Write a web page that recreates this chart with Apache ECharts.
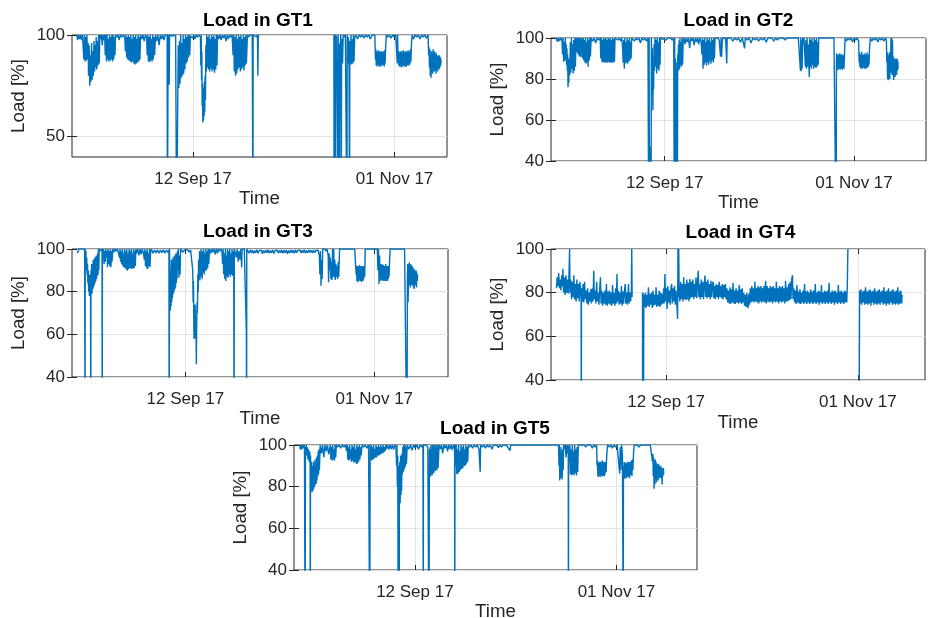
<!DOCTYPE html>
<html>
<head>
<meta charset="utf-8">
<script src="https://cdn.jsdelivr.net/npm/echarts@6/dist/echarts.min.js"></script>
<style>
  html, body { margin: 0; padding: 0; background: #ffffff; }
  #chart { width: 930px; height: 618px; }
</style>
</head>
<body>
<div id="chart"></div>
<script>
// Time is counted in days after 13 Aug 2017 (UTC).
const startDate = Date.UTC(2017, 7, 13);
const dateTicks = [30, 80];            // 12 Sep 17, 01 Nov 17
const loadTicksGT1 = [50, 100];
const loadTicks = [40, 60, 80, 100];
const panelTitles = ['Load in GT1', 'Load in GT2', 'Load in GT3', 'Load in GT4', 'Load in GT5'];
const dayExtent = [[0, 93], [0, 99], [0, 99.5], [0, 97.5], [0, 100]];

// Load [%] per gas turbine: [day, load]
const gt1Load = [
[1.2,100],[1.4,97.5],[1.6,100],[1.9,98],[2.1,100],[2.4,97.5],[2.6,100],[2.8,99.5],
[2.95,88],[3.1,100],[3.25,87],[3.4,99],[3.55,87.5],[3.7,100],[3.85,88],[4.0,96],
[4.1,80],[4.25,95],[4.4,75],[4.55,90],[4.7,77],[4.85,96],[5.0,78],[5.15,92],[5.3,80],[5.45,97],[5.6,82],[5.7,95],
[5.85,84],[6.0,99],[6.15,83],[6.3,97],[6.45,85],[6.6,100],[6.75,86],
[6.9,100],[7.1,98],[7.3,100],[7.5,95],[7.7,100],[7.9,97.5],[8.1,100],
[8.25,90],[8.4,100],[8.55,87],[8.7,100],[8.85,88],[9.0,98],[9.15,87],[9.3,100],[9.45,87.5],[9.6,99],[9.75,88],[9.9,100],[10.05,87],[10.2,100],[10.35,88],[10.5,99],[10.65,90],
[10.8,100],[11.1,99],[11.4,100],[11.7,97.5],[12.0,100],[12.4,99],[12.8,100],[13.1,98.5],
[13.25,92],[13.4,100],[13.55,89],[13.7,99],[13.85,88],[14.0,100],[14.15,87.5],[14.3,99],[14.45,87],[14.6,100],[14.75,86.5],[14.9,98],[15.05,87],[15.2,100],[15.35,86],[15.5,99],[15.65,85.5],[15.8,100],[15.95,86],[16.1,98],[16.25,86.5],[16.4,100],[16.55,87],[16.7,99],[16.85,88],
[17.0,100],[17.3,98],[17.6,100],[17.9,97],[18.2,100],[18.5,99],
[18.65,90],[18.8,100],[18.95,87],[19.1,99],[19.25,86.7],[19.4,100],[19.55,87.5],[19.7,98],[19.85,87],[20.0,100],[20.15,88],[20.3,99],[20.5,90],
[20.7,100],[21.0,97],[21.3,100],[21.6,95],[21.9,100],[22.2,98],[22.5,100],[22.8,97.5],[23.1,100],[23.4,99.5],
[23.6,100],[23.65,0],[23.8,0],[23.85,100],[24.1,75.5],[24.2,100],
[24.5,100],[24.9,99.5],[25.3,100],[25.7,99.8],
[25.95,0],[26.15,0],[26.25,73],
[26.35,95],[26.5,74],[26.65,97],[26.8,76],[26.95,100],[27.1,79],[27.25,96],[27.4,80],[27.55,100],[27.7,81],[27.85,98],[28.0,83],[28.15,100],[28.3,86],[28.45,99],[28.6,87],[28.75,100],[28.9,89],[29.05,100],[29.2,90],[29.35,99.5],
[29.6,100],[29.9,98.5],[30.2,100],[30.5,98],[30.8,100],[31.1,99],[31.4,100],[31.7,99.5],
[31.85,99],[31.95,85],[32.05,100],[32.12,78],[32.2,92],[32.28,65],[32.36,76],[32.44,57],[32.52,70],[32.6,58],[32.68,74],[32.76,60],[32.84,77],[32.92,62],[33.0,80],[33.1,68],[33.2,95],[33.3,82],
[33.4,100],[33.55,84],[33.7,99],[33.85,83],[34.0,100],[34.15,82],[34.3,98],[34.45,83.5],[34.6,100],[34.75,82],[34.9,99],[35.05,83],[35.2,100],[35.35,81.5],[35.5,98],[35.65,83],[35.8,100],[35.95,85],
[36.1,100],[36.4,98],[36.7,100],[37.0,97.5],[37.3,100],[37.6,98.5],[37.9,100],[38.2,97],[38.5,100],[38.8,98],[39.1,100],[39.4,99],[39.7,100],
[39.95,90],[40.1,100],[40.25,82],[40.4,99],[40.55,80],[40.7,100],[40.85,81],[41.0,98],[41.15,83],[41.3,100],[41.45,84],[41.6,99],[41.75,82],[41.9,100],[42.05,83],[42.2,98],[42.35,84],[42.5,100],[42.65,82.5],[42.8,99],[42.95,85],[43.1,100],[43.25,86],
[43.5,100],[43.8,99],[44.1,100],[44.4,99.5],[44.7,100],
[44.88,0],[44.92,100],
[45.3,100],[45.7,99],[46.0,100],[46.1,80],[46.2,100],[46.3,99],
[46.5,null],
[64.95,100],[65.0,0],[65.1,0],[65.2,100],[65.28,0],[65.35,100],[65.6,99],[65.95,0],[66.0,100],[66.15,88],[66.28,0],[66.35,96],[66.5,86],[66.65,100],[66.77,0],[66.85,87],[67.0,98],[67.1,86],[67.25,100],[67.5,99],[67.8,100],[68.0,99.5],
[68.18,0],[68.25,100],[68.4,86],[68.55,99],[68.7,85],[68.83,0],[68.9,97],[69.05,86],[69.2,100],[69.35,85.5],[69.5,98],[69.65,86],[69.8,100],[69.95,87],[70.1,99],
[70.4,100],[70.8,98],[71.2,100],[71.6,99],[72.0,100],[72.4,98.5],[72.8,100],[73.2,99],[73.6,100],[74.0,98],[74.4,100],[74.8,99.5],[75.1,100],
[75.25,88],[75.35,93],[75.45,85],[75.55,92],[75.65,84.5],[75.75,91],[75.85,86],[75.95,92.5],[76.05,85],[76.15,91.5],[76.25,84.4],[76.35,92],[76.45,85.5],[76.55,91],[76.65,84.5],[76.75,92],[76.85,85],[76.95,91.5],[77.05,86],[77.15,92],[77.25,85],[77.35,91],[77.45,84.5],[77.55,92.5],[77.65,86],[77.8,95],
[77.95,100],[78.3,99],[78.7,100],[79.1,98.5],[79.5,100],[79.9,99],[80.3,100],[80.55,100],
[80.65,86],[80.75,100],[80.85,87],[80.95,92],[81.05,85],[81.15,91],[81.25,84.5],[81.35,92],[81.45,85.5],[81.55,91.5],[81.65,84],[81.75,92],[81.85,85],[81.95,91],[82.05,84.5],[82.15,92.5],[82.25,85.5],[82.35,91],[82.45,84.5],[82.55,92],[82.65,85],[82.75,91.5],[82.85,84.3],[82.95,92],[83.05,85.5],[83.15,91],[83.25,85],[83.35,92.5],[83.45,86],[83.55,91],[83.65,85],[83.75,92],[83.85,86],[83.95,93],[84.05,87],[84.2,96],
[84.35,100],[84.7,98],[85.1,100],[85.5,99],[85.9,100],[86.3,98],[86.7,100],[87.1,99],[87.5,100],[87.9,98.5],[88.3,100],
[88.45,90],[88.55,94],[88.65,84],[88.75,93],[88.85,80],[88.95,90],[89.05,79],[89.15,92],[89.25,82],[89.35,91],[89.45,81],[89.55,93],[89.65,84],[89.75,90],[89.85,82],[89.95,92],[90.05,83],[90.15,90],[90.25,81],[90.35,91],[90.45,84],[90.55,89],[90.65,82],[90.75,90],[90.85,84],[90.95,89],[91.05,83],[91.15,90],[91.25,84],[91.35,89],[91.45,85],[91.55,88]
];

const gt2Load = [
[1.4,100],[1.7,98.2],[2.0,100],[2.3,98.5],[2.6,100],[2.9,99],
[3.05,92],[3.2,100],[3.35,88.4],[3.5,98],[3.65,89],[3.8,100],
[3.9,90],[4.0,97],[4.1,87],[4.2,95],[4.3,84],[4.4,92],[4.5,76],[4.6,88],[4.7,78],[4.8,90],
[4.95,82],[5.1,98],[5.25,83],[5.4,100],[5.55,85],[5.7,97],[5.85,82.7],[6.0,99],[6.15,84],[6.3,100],[6.45,86],
[6.6,100],[6.8,93],[7.0,100],[7.2,92],[7.35,100],
[7.5,91],[7.7,100],[7.9,90.8],[8.1,99],[8.25,100],
[8.35,90],[8.5,100],[8.65,89],[8.8,99],[8.95,88],[9.1,100],[9.25,87.5],[9.4,98],[9.55,88],[9.7,100],[9.8,86],[9.95,99],[10.1,89],[10.25,100],[10.4,91],
[10.6,100],[11.0,98.5],[11.4,100],[11.8,97.5],[12.2,100],[12.6,99],[13.0,100],
[13.15,90],[13.3,100],[13.45,88.4],[13.6,99],[13.75,88],[13.9,100],[14.05,88.2],[14.2,99.5],[14.35,88],[14.5,100],[14.65,87.9],[14.8,99],[14.95,88],[15.1,100],[15.25,88.2],[15.4,99.5],[15.55,88],[15.7,100],[15.85,87.9],[16.0,99],[16.15,88.1],[16.3,100],[16.45,88],[16.6,99.5],[16.75,88.4],[16.9,100],
[17.2,100],[17.6,99],[18.0,100],[18.4,98.5],
[18.7,100],[18.9,95],[19.05,88],[19.2,99],[19.35,85],[19.5,100],[19.65,87.6],[19.8,98],[19.95,88],[20.1,100],[20.25,87.5],[20.4,99],[20.55,88.5],[20.7,100],[20.85,89],[21.0,98],[21.15,90],[21.3,100],
[21.6,100],[22.0,98.5],[22.4,100],[22.8,99],[23.2,100],[23.6,97.5],[24.0,100],[24.4,99],[24.8,100],[25.2,98.5],[25.6,100],
[25.8,0],[25.9,100],[26.0,0],[26.1,45],[26.2,0],[26.3,47],[26.4,0],[26.5,100],
[26.6,85],[26.75,95],[26.9,64.7],[27.0,90],[27.1,75],[27.2,97],[27.3,84],
[27.45,100],[27.6,86],[27.75,99],[27.9,82.7],[28.05,100],[28.2,85],[28.35,98],[28.5,84],[28.65,100],[28.8,87],[28.9,100],
[29.2,100],[29.6,99.5],[30.0,100],[30.4,99],[30.8,100],[31.2,99.5],[31.6,100],[32.0,99],[32.4,100],
[32.55,0],[32.65,100],[32.75,0],[32.85,90],[32.95,0],[33.05,85],[33.15,0],[33.25,88],[33.35,0],[33.45,92],
[33.55,86],[33.65,97],[33.75,84.3],[33.85,99],[33.95,85],[34.05,100],[34.15,86.8],[34.3,98],[34.45,86],[34.6,100],[34.75,87],[34.9,99],
[35.1,100],[35.4,97],[35.7,100],[36.0,98],[36.3,100],[36.6,95],[36.9,100],[37.2,98.5],[37.5,100],[37.8,96.5],[38.1,100],[38.4,98],[38.7,100],[39.0,97],[39.3,100],[39.6,98.5],
[39.85,92],[40.0,100],[40.15,85],[40.3,99],[40.45,87],[40.6,100],[40.75,88],[40.9,98],[41.05,86.5],[41.2,100],[41.35,88],[41.5,99],[41.65,87],[41.8,100],[41.95,88.5],[42.1,98],[42.25,87.5],[42.4,100],[42.55,89],[42.7,99],[42.85,88],[43.0,100],[43.15,90],[43.3,100],
[43.6,99.5],[44.0,100],[44.4,99],
[44.75,91],[44.9,100],[45.05,90.8],[45.2,98],[45.4,100],
[45.7,99.5],[46.1,100],[46.4,87.6],[46.5,100],
[47.0,99.5],[47.5,100],[48.0,98.5],[48.5,100],[49.0,99],[49.5,100],[50.0,98],[50.5,100],[51.1,94.9],[51.3,100],[51.8,99],[52.3,100],[52.8,97.5],[53.3,100],[53.8,99],[54.3,100],[54.8,98.5],[55.3,100],[55.8,99],[56.3,100],[56.8,98],[57.3,100],[57.8,99.5],[58.3,100],[58.8,98.5],[59.3,100],[59.8,99],[60.3,100],[60.8,99.5],[61.3,100],[61.8,99],[62.3,100],[62.8,99.5],[63.3,100],[63.8,99.8],[64.3,100],[64.8,99.7],[65.3,100],[65.7,100],
[65.85,84],[65.95,100],[66.05,83.8],[66.15,99],[66.3,85],[66.45,100],[66.6,97],[66.8,100],[67.0,92],[67.15,86],[67.3,99],[67.45,85],[67.6,100],[67.75,86],[67.9,97],[68.05,88],[68.2,81],[68.3,100],[68.45,86],[68.6,99],[68.75,85],[68.9,100],[69.05,86.8],[69.2,98],[69.35,85],[69.5,100],[69.65,86],[69.8,99],[69.95,85.5],[70.1,100],[70.25,86],[70.4,98],[70.55,87],
[70.7,100],[71.2,99.8],[71.7,100],[72.2,99.8],[72.7,100],[73.2,99.8],[73.7,100],[74.2,99.8],[74.7,100],[75.2,99.8],
[75.28,0],[75.35,88],[75.45,92.5],[75.55,85],[75.65,91],[75.75,84.3],[75.85,92],[75.95,86],[76.05,91.5],[76.15,85],[76.25,92.5],[76.35,84.5],[76.45,91],[76.55,86],[76.65,92],[76.75,85],[76.85,91.5],[76.95,84.5],[77.05,92],[77.15,86],[77.25,91],[77.35,85],[77.5,93],
[77.65,100],[78.0,98.5],[78.4,100],[78.8,99],[79.2,100],[79.6,98],[80.0,100],[80.4,99],[80.8,100],[81.2,98.5],
[81.35,88],[81.45,93],[81.55,86],[81.65,92],[81.75,85.1],[81.85,91.5],[81.95,86],[82.05,93.3],[82.15,85],[82.25,91],[82.35,86],[82.45,92],[82.55,85.5],[82.65,91.5],[82.75,85],[82.85,92.5],[82.95,86],[83.05,91],[83.15,85],[83.25,92],[83.35,86],[83.45,93],[83.55,85.5],[83.65,91],[83.75,86],[83.85,92],[83.95,87],[84.1,95],
[84.3,100],[84.7,98.5],[85.1,100],[85.5,99],[85.9,100],[86.3,98],[86.7,100],[87.1,99],[87.5,100],[87.9,98.5],[88.3,100],[88.55,99],
[88.65,88],[88.75,93],[88.85,80],[88.95,92],[89.05,79.4],[89.15,90],[89.25,82],[89.35,93],[89.45,80],[89.55,91],[89.65,84],[89.75,100],[89.85,83],[89.95,100],[90.05,82],[90.15,99],[90.25,84],[90.35,91],[90.45,79.5],[90.55,90],[90.65,82],[90.75,89],[90.85,81],[90.95,90],[91.05,83],[91.15,89],[91.25,82],[91.35,90],[91.45,84],[91.55,89],[91.65,85]
];

const gt3Load = [
[1.4,98],[1.6,97.7],[1.8,100],[2.2,99.5],[2.6,100],[3.0,99.5],[3.35,100],
[3.45,0],[3.5,100],
[3.6,92],[3.7,99],[3.8,90],[3.9,96],[4.0,88],[4.1,93],[4.2,84],[4.3,90],[4.4,80],[4.5,86],[4.6,78],[4.7,88],[4.8,79],[4.9,85],
[4.98,0],[5.02,90],
[5.1,80],[5.2,93],[5.3,79],[5.4,92],[5.5,81],[5.6,95],[5.7,82],[5.8,91],[5.9,83],[6.0,96],[6.1,84],[6.2,92],[6.3,85],[6.4,97],[6.5,86],[6.6,93],[6.7,87.5],[6.8,98],[6.9,88],[7.0,100],[7.1,90],[7.2,100],
[7.4,100],[7.7,99],[7.95,100],
[8.0,0],[8.05,99],
[8.2,95],[8.35,100],[8.5,93],[8.65,99],[8.8,94],[8.95,100],[9.1,96],[9.25,99],[9.4,91.4],[9.55,100],[9.7,93],[9.85,99],[10.0,92],[10.15,100],[10.3,91.5],[10.45,99],[10.6,94],
[10.8,100],[11.1,98.5],[11.4,100],[11.7,99],[12.0,100],[12.3,98],
[12.55,96],[12.7,100],[12.85,94],[13.0,99],[13.15,93],[13.3,100],[13.45,92],[13.6,98],[13.75,91.5],[13.9,100],[14.05,91],[14.2,99],[14.35,90.5],[14.5,100],[14.65,89.8],[14.8,98],[14.95,90.5],[15.1,100],[15.25,91],[15.4,99],[15.55,91],[15.7,100],[15.85,90.6],[16.0,98],[16.15,91],[16.3,100],[16.45,91],[16.6,99],[16.75,92],[16.9,100],
[17.1,98],[17.4,100],[17.7,97],[18.0,100],[18.3,97.5],[18.6,100],[18.9,98],
[19.15,95],[19.3,100],[19.45,92],[19.6,99],[19.75,91],[19.9,100],[20.05,90.6],[20.2,98],[20.35,92],[20.5,100],[20.65,91.5],[20.8,99],
[21.0,100],[21.4,98],[21.8,99.5],[22.2,98.2],[22.6,99.6],[23.0,98],[23.4,99.5],[23.8,98.3],[24.2,99.6],[24.6,98],[25.0,99.5],[25.4,98.4],[25.65,99.5],
[25.72,0],[25.8,100],[25.9,85],[26.0,71],[26.1,90],[26.2,73],[26.3,95],[26.4,75],[26.5,92],[26.6,77],[26.7,96],[26.8,79],[26.9,93],[27.0,80],[27.1,97],[27.2,81],[27.3,94],[27.4,82],[27.5,98],[27.6,84],[27.7,96],[27.8,86],[27.9,99],
[28.0,90],[28.15,100],[28.3,86.7],[28.45,97],[28.6,88],[28.75,100],
[29.0,99.5],[29.4,98.5],[29.8,99.6],[30.2,98.8],[30.6,99.7],[31.0,98.5],[31.4,99.5],[31.8,99],
[31.95,90],[32.05,75],[32.15,85],[32.25,62],[32.3,57.8],[32.4,70],[32.5,60],[32.6,74],[32.7,58],[32.8,68],[32.9,46],[33.0,65],[33.1,75],[33.2,70],[33.3,88],[33.4,80],[33.5,95],
[33.65,86],[33.75,99],[33.85,85.2],[33.95,97],[34.05,87],[34.15,100],[34.25,88],[34.35,96],[34.45,86],[34.55,99],[34.7,89],[34.85,100],[35.0,88],[35.15,98],[35.3,89.8],[35.45,100],[35.6,90],[35.75,99],[35.9,91],[36.05,100],[36.2,93],
[36.4,100],[36.7,98],[37.0,100],[37.3,98.5],[37.6,100],[37.9,97.5],[38.2,100],[38.5,98],[38.8,100],[39.1,99],[39.4,100],[39.7,98.5],
[39.85,93],[40.0,100],[40.15,88],[40.3,98],[40.45,86],[40.6,100],[40.7,85],[40.85,97],[41.0,87],[41.15,100],[41.3,86.5],[41.45,99],[41.6,88],[41.75,100],[41.9,87],[42.05,98],[42.2,88],[42.35,100],[42.5,87.5],[42.65,99],[42.8,90],
[42.9,0],[42.95,100],
[43.2,99.5],[43.5,96],[43.7,100],[44.0,94],[44.2,99],[44.5,95],[44.7,100],[44.9,91.4],[45.0,100],
[45.3,99.5],[45.6,100],[45.9,99.5],
[46.15,60],[46.2,0],[46.25,100],
[46.5,99.2],[46.8,98],[47.1,99.5],[47.4,98.3],[47.7,99.4],[48.0,97.9],[48.3,99.3],[48.6,98.2],[48.9,99.6],[49.2,98],[49.5,99.2],[49.8,98.4],[50.1,99.5],[50.4,97.8],[50.7,99.3],[51.0,98.1],[51.3,99.4],[51.6,98.3],[51.9,99.6],[52.2,98],[52.5,99.3],[52.8,98.2],[53.1,99.5],[53.4,97.9],[53.7,99.2],[54.0,98.4],[54.3,99.5],[54.6,98.1],[54.9,99.3],[55.2,98.3],[55.5,99.6],[55.8,98],[56.1,99.4],[56.4,98.2],[56.7,99.5],[57.0,97.8],[57.3,99.3],[57.6,98.1],[57.9,99.5],[58.2,98.3],[58.5,99.4],[58.8,98],[59.1,99.6],[59.4,98.2],[59.7,99.3],[60.0,98.4],[60.3,99.5],[60.6,98.1],[60.9,99.4],[61.2,98.3],[61.5,99.6],[61.8,98],[62.1,99.3],[62.4,98.2],[62.7,99.5],[63.0,98.4],[63.3,99.4],[63.6,98.1],[63.9,99.5],[64.2,98.3],[64.5,99.3],[64.8,98.5],[65.1,99.4],[65.35,98.8],
[65.45,97],[65.6,88],[65.75,99],[65.9,82.8],[66.05,95],[66.2,86],[66.35,100],[66.6,99.5],[66.9,100],[67.2,99],[67.5,100],[67.8,97],[67.9,84.4],[68.05,98],[68.2,90],[68.35,96],[68.5,86],[68.65,94],[68.8,85.5],[68.95,100],[69.1,87],[69.25,100],[69.4,86.7],[69.55,95],[69.7,85.5],[69.85,93],[70.0,87],[70.15,92],[70.3,86],[70.45,94],[70.6,87],
[70.8,100],[71.2,99.3],[71.6,100],[72.0,99.2],[72.4,100],[72.8,99.4],[73.2,100],[73.6,99.2],[74.0,100],[74.4,99.3],[74.8,100],[75.1,99.5],
[75.2,88],[75.3,92],[75.4,85],[75.5,91],[75.6,84.4],[75.7,92],[75.8,86],[75.9,91],[76.0,85],[76.1,92.5],[76.2,86],[76.3,91],[76.4,85],[76.5,92],[76.6,84.5],[76.7,91.5],[76.8,86],[76.9,92],[77.0,85],[77.1,91],[77.2,86],[77.3,92],[77.45,87],
[77.6,100],[78.0,99.5],[78.4,100],[78.8,99.3],[79.2,100],[79.6,99.5],[80.0,100],[80.4,99.4],[80.8,100],
[80.95,90],[81.1,100],[81.25,83.6],[81.4,97],
[81.5,86],[81.6,93],[81.7,85],[81.8,92],[81.9,86],[82.0,93],[82.1,85.5],[82.2,91],[82.3,85],[82.4,92.5],[82.5,86],[82.6,91],[82.7,85],[82.8,92],[82.9,86],[83.0,93],[83.1,85],[83.2,91.5],[83.3,86],[83.4,92],[83.5,85],[83.6,92],[83.7,86],[83.8,91],[83.9,87],[84.05,95],
[84.2,100],[84.6,99.5],[85.0,100],[85.5,99.5],[86.0,100],[86.5,99.5],[87.0,100],[87.5,99.6],[88.0,100],[88.5,99.8],
[88.65,0],[88.75,85],[88.85,93],[88.95,75],[89.05,90],[89.15,83],[89.25,93.8],[89.35,84],[89.45,92],[89.55,82],[89.65,93],[89.75,85],[89.85,91],[89.95,83],[90.05,92],[90.15,84],[90.25,90],[90.35,82],[90.45,91],[90.55,81.3],[90.65,90],[90.75,84],[90.85,89],[90.95,83],[91.05,90],[91.15,82],[91.25,89],[91.35,85],[91.45,88]
];

const gt4Load = [
[1.4,82],[1.6,87],[1.8,83],[2.0,89],[2.2,82],[2.4,86],[2.6,81],[2.8,88],[3.0,83],[3.1,91],
[3.3,80],[3.5,87],[3.7,79],[3.9,88],[4.1,80],[4.3,86],[4.5,79.5],[4.7,89],
[4.85,100],[4.95,80],
[5.15,86],[5.35,77],[5.55,85],[5.75,78],[5.95,88],[6.15,77],[6.35,84],[6.55,76],[6.75,86],[6.95,77.5],[7.15,84],[7.35,76],[7.55,85],
[7.85,77],[7.9,0],[7.95,82],
[8.15,76],[8.35,84],[8.55,75.5],[8.75,85],[8.95,77],
[9.15,81],[9.35,75],[9.55,82],[9.75,74.5],[9.95,80],[10.15,76],[10.35,81.5],[10.55,75],[10.75,82],[10.95,76],[11.15,90],[11.3,77],[11.5,81],[11.7,75],[11.9,85],[12.1,76],[12.3,80],[12.5,74.5],[12.7,82],[12.9,87],[13.05,75],[13.25,81],
[13.45,74],[13.65,80],[13.85,75],[14.05,81],[14.25,74.5],[14.45,84],[14.65,74],[14.85,80.5],[15.05,75],[15.25,81],[15.45,74.5],[15.65,80],[15.85,74],[16.05,83.5],[16.25,75],[16.45,80],[16.65,74],[16.85,82],[17.05,75],[17.2,88.5],[17.35,76],[17.55,81],[17.75,74.5],[17.95,80],[18.15,75],[18.35,83],[18.55,74],[18.75,80.5],[18.95,75],[19.15,81],[19.35,84],[19.5,75],[19.7,80],[19.9,74.5],[20.1,81],[20.2,84],[20.35,75],[20.55,80],[20.75,76],[20.95,81],[21.05,100],[21.15,78],
[21.25,null],
[23.85,80],[23.9,0],[24.0,80],[24.1,0],[24.2,79],
[24.4,73.5],[24.6,80],[24.8,73],[25.0,79],[25.2,74],[25.4,82.5],[25.6,73.5],[25.8,79.5],[26.0,74.5],[26.2,80],[26.4,73],[26.6,81],[26.8,74],[27.0,79],[27.2,74.5],[27.4,82.5],[27.6,73.5],[27.8,79],[28.0,74],[28.2,81],[28.4,73.5],[28.6,80],[28.8,74.5],[29.0,79.5],[29.2,75],[29.35,82],
[29.5,75],[29.7,88.5],[29.85,76],[30.05,82],[30.25,72.5],[30.45,83],[30.65,75.5],[30.85,81],[31.05,74.5],[31.25,82],[31.45,84],[31.6,75],[31.8,82],[32.0,76],[32.2,83],[32.4,74.5],[32.6,81],[32.8,75],[33.0,68],[33.1,100],[33.2,78],[33.3,100],[33.4,80],
[33.6,76],[33.8,85],[34.0,77],[34.2,84],[34.4,76],[34.6,87],[34.8,77],[35.0,84],[35.2,76.5],[35.4,86],[35.6,77],[35.8,84.5],[36.0,76],[36.2,86.3],[36.4,77.5],
[36.6,85],[36.8,78],[37.0,86],[37.2,77],[37.4,84],[37.6,78],[37.8,87],[38.0,77.5],[38.2,85],[38.4,90],[38.55,78],[38.75,84],[38.95,77],[39.15,86],[39.35,78],[39.55,85],[39.75,77],[39.95,84],[40.15,87.8],[40.3,78],[40.5,85],[40.7,77.5],[40.9,86],[41.1,78],[41.3,84],[41.5,77],[41.7,85.5],[41.9,78],[42.1,84],[42.3,85],[42.45,77.5],
[42.65,83],[42.85,77],[43.05,84],[43.25,78],[43.45,83.5],[43.65,77],[43.85,85],[44.05,78],[44.25,83],[44.45,77.5],[44.65,84],[44.85,77],[45.05,83.5],[45.25,78],[45.45,84],[45.65,77],
[45.85,82],[46.05,75.5],[46.25,81],[46.45,75],[46.65,82.5],[46.85,74.8],[47.05,81.5],[47.25,75.5],[47.45,84.5],[47.65,75],[47.85,81],[48.05,74.8],[48.25,82],[48.45,75.5],[48.65,81],[48.85,75],[49.05,83.5],[49.25,75.5],[49.45,81.5],[49.65,74.8],[49.85,82],[50.05,75.5],
[50.25,80],[50.45,74],[50.65,79],[50.85,73.5],[51.05,80],[51.25,74],[51.4,73],[51.55,79.5],[51.75,74.5],
[51.95,82],[52.15,75.5],[52.35,83],[52.55,76],[52.75,82],[52.95,75.5],[53.15,85],[53.35,76],[53.55,82],[53.75,75.5],[53.95,83],[54.15,75],[54.35,82.5],[54.55,76],[54.75,83],[54.95,75.5],[55.15,82],[55.35,76],[55.55,83],[55.75,75.5],[55.95,85.5],[56.15,75],[56.35,83],[56.55,76],[56.75,82],[56.95,75.5],[57.15,83],[57.35,76],[57.55,82.5],[57.75,75],[57.95,83],[58.15,76],[58.35,82],[58.55,75.5],[58.75,85],[58.95,76],[59.15,82],[59.35,75],[59.55,83],[59.75,76],[59.95,82.5],[60.15,75.5],[60.35,83],[60.55,76],[60.75,82],[60.95,75],[61.15,85.5],[61.35,76],[61.55,82.5],[61.75,76],[61.95,84],[62.15,76.5],[62.35,85],[62.55,77],[62.75,86],[62.95,88],[63.1,77],
[63.3,82],[63.5,75.5],[63.7,81],[63.9,74.8],[64.1,83.5],[64.3,75.5],[64.5,80.5],[64.7,75],[64.9,81.5],[65.1,74.8],[65.3,80],[65.5,75.5],[65.7,81],[65.9,74.8],[66.1,84],[66.3,75.5],[66.5,80.5],[66.7,74.8],[66.9,81],[67.1,75.5],[67.3,80],[67.5,74.8],[67.7,81.5],[67.9,75.5],[68.1,80.5],[68.3,74.8],[68.5,81],[68.7,75.5],[68.9,84],[69.1,74.8],[69.3,80],[69.5,75.5],[69.7,81],[69.9,74.5],[70.1,80.5],[70.3,75.5],[70.5,83.5],[70.7,74.8],[70.9,80],[71.1,75.5],[71.3,81],[71.5,74.8],[71.7,80.5],[71.9,75.5],[72.1,81],[72.3,74.8],[72.5,84.5],[72.7,75.5],[72.9,80],[73.1,74.8],[73.3,81],[73.5,75.5],[73.7,80.5],[73.9,74.5],[74.1,81],[74.3,75.5],[74.5,80],[74.7,74.8],[74.9,83.5],[75.1,75.5],[75.3,80.5],[75.5,74.8],[75.7,81],[75.9,75.5],[76.1,80],[76.3,74.8],[76.5,81],[76.7,75.5],[76.9,80.5],[77.1,75.5],[77.25,84],[77.4,100],
[77.5,null],
[80.3,0],[80.45,81],
[80.6,75],[80.8,81.5],[81.0,74.5],[81.2,80.5],[81.4,75.5],[81.6,81],[81.8,74.5],[82.0,82.5],[82.2,75],[82.4,80.5],[82.6,74.5],[82.8,81],[83.0,75],[83.2,81.5],[83.4,74],[83.6,80.5],[83.8,75.5],[84.0,81],[84.2,74.5],[84.4,82],[84.6,75],[84.8,80.5],[85.0,74.5],[85.2,81],[85.4,75],[85.6,81.5],[85.8,74.5],[86.0,80.5],[86.2,75.5],[86.4,81],[86.6,74.5],[86.8,82.5],[87.0,75],[87.2,80.5],[87.4,74],[87.6,81],[87.8,75],[88.0,82],[88.2,74.5],[88.4,80.5],[88.6,75.5],[88.8,81],[89.0,74.5],[89.2,81.5],[89.4,75],[89.6,80.5],[89.8,74.5],[90.0,81],[90.2,75],[90.4,82.5],[90.6,74.5],[90.8,80.5],[91.0,75],[91.2,81],[91.4,75],[91.55,79]
];

const gt5Load = [
[1.4,100],[1.6,97.8],[1.8,100],[2.0,98],[2.2,100],[2.4,98.5],[2.6,100],
[2.75,0],[2.85,99],
[2.95,96],[3.05,100],[3.15,95],[3.3,99],[3.45,93],[3.6,98],[3.75,92],[3.9,97],[4.0,91],
[4.04,0],[4.1,95],
[4.2,85],[4.3,92],[4.4,79],[4.5,77.4],[4.6,90],[4.7,78],[4.8,92],[4.9,79],[5.0,90],[5.1,80],[5.2,93],[5.3,81],[5.4,91],[5.5,81.4],[5.6,94],[5.7,83],[5.8,95],[5.9,85],[6.0,97],[6.1,86],[6.2,98],[6.3,88],
[6.5,100],[6.8,96],[7.1,100],[7.4,94.2],[7.7,100],[8.0,97],[8.3,100],[8.6,95.5],
[8.85,96],[9.0,100],[9.15,93],[9.3,99],[9.45,92.6],[9.6,100],[9.75,93],[9.9,98],[10.05,92.6],[10.2,100],[10.35,94],[10.5,100],
[10.8,99],[11.2,100],[11.6,98.5],[12.0,100],[12.4,99],[12.8,100],
[13.05,97],[13.2,100],[13.35,93],[13.5,99],[13.65,92.6],[13.8,100],[13.95,93],[14.1,98],[14.25,92],[14.4,100],[14.55,92.5],[14.7,99],[14.85,91.5],[15.0,100],[15.15,92],[15.3,98],[15.45,91],[15.6,100],[15.75,91],[15.9,99],[16.05,92],[16.2,100],[16.35,93],[16.5,99],[16.65,95],
[16.9,100],[17.3,99],[17.7,100],[18.1,98.5],[18.5,100],[18.75,99.5],
[18.8,0],[18.9,100],
[19.0,93],[19.15,100],[19.3,92.6],[19.45,99],[19.6,93],[19.75,100],[19.9,93.5],[20.05,98],[20.2,94],[20.35,100],[20.5,94],[20.65,99],[20.8,95],[20.95,100],[21.1,95],[21.25,99],[21.4,95.5],[21.55,100],[21.7,96],[21.85,99],[22.0,96],[22.15,100],[22.3,96.6],[22.45,99],[22.6,97],[22.75,100],[22.9,98],
[23.2,100],[23.5,97.8],[23.8,100],[24.1,98],[24.4,100],[24.7,97.8],[25.0,100],[25.3,99],
[25.45,90],[25.55,100],[25.65,80],[25.75,95],[25.86,0],[25.9,68.6],[26.0,90],[26.1,0],[26.15,75],[26.25,92],[26.35,72],[26.45,95],[26.55,76],[26.65,93],[26.7,78.2],
[26.8,96],[26.9,86],[27.0,99],[27.1,87],[27.2,100],[27.3,88],[27.4,99],[27.5,89],[27.6,100],[27.7,90],[27.8,99],[27.9,91],
[28.1,100],[28.5,98],[28.9,100],[29.3,97.5],[29.7,100],[30.1,98.5],[30.5,100],[30.9,98],[31.3,100],[31.7,99],[32.0,100],
[32.07,0],[32.12,100],
[32.4,99.5],[32.8,100],[33.2,99],
[33.5,0],[33.6,98],
[33.7,84.6],[33.8,99],[33.9,85],[34.0,100],[34.1,86],[34.2,97],[34.3,85.5],[34.4,100],[34.5,87],[34.6,98],[34.7,86.5],[34.8,100],[34.9,88],[35.0,99],[35.1,87.5],[35.2,100],[35.3,88.6],[35.4,98],[35.5,88],[35.6,100],[35.75,89],
[36.0,100],[36.3,98],[36.6,100],[36.9,96],[37.2,100],[37.5,98.5],[37.8,100],[38.1,97],[38.4,100],[38.7,98],[39.0,100],[39.3,97.5],[39.6,100],[39.85,99],
[39.9,0],[39.95,100],
[40.1,90],[40.25,100],[40.4,86],[40.55,98],[40.7,86.2],[40.85,100],[41.0,87],[41.15,97],[41.3,88],[41.45,100],[41.6,88.5],[41.75,99],[41.9,89],[42.05,100],[42.2,90],[42.35,98],[42.5,90],[42.65,100],[42.8,91],[42.95,99],[43.1,92],[43.25,100],
[43.5,99],[43.9,100],[44.3,98.5],[44.7,100],[45.1,99],[45.5,100],[45.9,98],[46.2,87],[46.3,100],[46.7,99],[47.1,100],[47.5,98.5],[47.9,100],[48.3,99],[48.7,100],[49.1,98],[49.5,100],[49.9,99.2],[50.3,100],[50.7,98.8],[51.1,100],[51.5,99],[51.9,100],[52.3,99.3],[52.7,100],[53.1,98.8],[53.6,97.3],[53.8,100],[54.2,99.3],[54.6,100],[55.0,99.5],[55.4,100],[55.8,99.3],[56.2,100],[56.6,99.6],[57.0,100],[57.4,99.5],[57.8,100],[58.2,99.6],[58.6,100],[59.0,99.5],[59.4,100],[59.8,99.7],[60.2,100],[60.6,99.6],[61.0,100],[61.4,99.7],[61.8,100],[62.2,99.6],[62.6,100],[63.0,99.8],[63.4,100],[63.8,99.7],[64.2,100],[64.6,99.8],[65.0,100],[65.4,99.9],[65.65,100],
[65.75,90],[65.85,100],[65.95,83],[66.05,97],[66.15,84],[66.25,99],[66.35,85],[66.45,96],[66.55,83.5],[66.65,98],[66.8,88],[66.9,100],
[67.1,98],[67.3,100],[67.5,94],[67.7,100],[67.9,96],[68.05,100],
[68.1,0],[68.15,99],
[68.3,92],[68.45,100],[68.6,86],[68.75,98],[68.9,85.4],[69.05,100],[69.2,86],[69.35,97],[69.5,85.5],[69.65,100],[69.8,86.5],[69.95,98],[70.1,85.4],[70.25,99],[70.4,87],[70.55,100],
[70.8,99.5],[71.2,100],[71.6,99.3],[72.0,100],[72.4,99],[72.8,100],[73.2,99.5],[73.6,100],[74.0,98.5],[74.4,100],[74.8,99],[75.1,100],
[75.2,90],[75.3,92.6],[75.4,85],[75.5,91],[75.6,84.6],[75.7,92],[75.8,86],[75.9,91.5],[76.0,85],[76.1,92],[76.2,84.8],[76.3,91],[76.4,86],[76.5,92.5],[76.6,85],[76.7,91],[76.8,85.5],[76.9,92],[77.0,85],[77.1,91.5],[77.2,86],[77.3,92],[77.45,87],[77.6,95],
[77.8,100],[78.2,99],[78.6,100],[79.0,98.5],[79.4,100],[79.8,99],[80.2,100],[80.5,99.5],
[80.65,100],[80.8,86.2],[80.95,99],[81.1,88],[81.3,100],[81.5,95],[81.7,0],[81.75,90],
[81.85,84],[81.95,91.8],[82.05,83.8],[82.15,91],[82.25,85],[82.35,91.5],[82.45,84],[82.55,90.5],[82.65,85],[82.75,91.8],[82.85,84.5],[82.95,91],[83.05,85],[83.15,92],[83.25,84],[83.35,91],[83.45,85.5],[83.55,92],[83.65,86],[83.75,92.5],[83.85,85],[83.95,93],[84.1,88],[84.25,96],
[84.4,100],[84.8,99.5],[85.2,100],[85.6,99],[86.0,100],[86.4,99.5],[86.8,100],[87.2,99.2],[87.6,100],[88.0,99.5],[88.4,100],[88.8,99.7],
[88.95,92],[89.05,95.8],[89.15,85],[89.25,94],[89.35,79],[89.45,90],[89.55,81],[89.65,93],[89.75,84],[89.85,92],[89.95,82],[90.05,91],[90.15,84],[90.25,90],[90.35,83],[90.45,91],[90.55,85],[90.65,90],[90.75,84],[90.85,89],[90.95,86],[91.05,90],[91.15,84],[91.25,89],[91.35,81],[91.45,88],[91.55,85],[91.65,89],[91.75,86]
];

const seriesData = [gt1Load, gt2Load, gt3Load, gt4Load, gt5Load];

// Plot boxes of the five axes (pixels), title anchors and x-label gaps.
const panels = [
  { box: { left: 72,  top: 35,  width: 375, height: 122 }, titleAt: [258, 11],    yTicks: loadTicksGT1, timeGap: 30 },
  { box: { left: 551, top: 38,  width: 375, height: 123 }, titleAt: [738.5, 11],  yTicks: loadTicks,    timeGap: 28 },
  { box: { left: 72,  top: 249, width: 376, height: 128 }, titleAt: [258, 222],   yTicks: loadTicks,    timeGap: 28 },
  { box: { left: 551, top: 249, width: 374, height: 131 }, titleAt: [740.5, 223], yTicks: loadTicks,    timeGap: 33 },
  { box: { left: 294, top: 445, width: 403, height: 125 }, titleAt: [495, 419],   yTicks: loadTicks,    timeGap: 30 }
];

const FONT = '"Liberation Sans", Arial, Helvetica, sans-serif';
const AXIS_COLOR = '#262626';
const GRID_COLOR = '#e3e3e3';
const LINE_COLOR = '#0072BD';
const MONTHS = ['Jan','Feb','Mar','Apr','May','Jun','Jul','Aug','Sep','Oct','Nov','Dec'];

function dateLabel(day) {
  const d = new Date(startDate + day * 86400000);
  return String(d.getUTCDate()).padStart(2, '0') + ' ' + MONTHS[d.getUTCMonth()] + ' ' +
         String(d.getUTCFullYear()).slice(2);
}

const grid = [], xAxis = [], yAxis = [], series = [], title = [];

panels.forEach((p, i) => {
  grid.push(Object.assign({ show: true, borderColor: AXIS_COLOR, borderWidth: 1,
    backgroundColor: '#ffffff', containLabel: false, outerBoundsMode: 'none' }, p.box));

  const tick = { show: true, inside: true, length: 5, lineStyle: { color: AXIS_COLOR, width: 1 } };

  // bottom time axis + mirrored top axis
  xAxis.push({
    gridIndex: i, type: 'value', position: 'bottom',
    min: dayExtent[i][0], max: dayExtent[i][1],
    axisLine: { show: false },
    axisTick: Object.assign({ customValues: dateTicks }, tick),
    axisLabel: { customValues: dateTicks, formatter: dateLabel, fontSize: 17,
      color: AXIS_COLOR, fontFamily: FONT, margin: 14 },
    splitLine: { show: true, lineStyle: { color: GRID_COLOR, width: 1 } },
    name: 'Time', nameLocation: 'middle', nameGap: p.timeGap,
    nameTextStyle: { fontSize: 18.7, color: AXIS_COLOR, fontFamily: FONT }
  });
  xAxis.push({
    gridIndex: i, type: 'value', position: 'top',
    min: dayExtent[i][0], max: dayExtent[i][1],
    axisLine: { show: false },
    axisTick: Object.assign({ customValues: dateTicks }, tick),
    axisLabel: { show: false }, splitLine: { show: false }
  });

  // left load axis + mirrored right axis
  yAxis.push({
    gridIndex: i, type: 'value', position: 'left', min: 40, max: 100,
    axisLine: { show: false },
    axisTick: Object.assign({ customValues: p.yTicks }, tick),
    axisLabel: { customValues: p.yTicks, fontSize: 17, color: AXIS_COLOR, fontFamily: FONT, margin: 7 },
    splitLine: { show: true, lineStyle: { color: GRID_COLOR, width: 1 } },
    name: 'Load [%]', nameLocation: 'middle', nameGap: 44, nameRotate: 90,
    nameTextStyle: { fontSize: 18.7, color: AXIS_COLOR, fontFamily: FONT }
  });
  yAxis.push({
    gridIndex: i, type: 'value', position: 'right', min: 40, max: 100,
    axisLine: { show: false },
    axisTick: Object.assign({ customValues: p.yTicks }, tick),
    axisLabel: { show: false }, splitLine: { show: false }
  });

  series.push({
    type: 'line', xAxisIndex: 2 * i, yAxisIndex: 2 * i,
    data: seriesData[i], showSymbol: false, symbol: 'none',
    connectNulls: false, clip: true, silent: true,
    lineStyle: { color: LINE_COLOR, width: 1.4 },
    itemStyle: { color: LINE_COLOR }
  });

  title.push({
    text: panelTitles[i], left: p.titleAt[0], top: p.titleAt[1], textAlign: 'center', padding: 0,
    textStyle: { fontSize: 19, fontWeight: 'bold', color: '#000000', fontFamily: FONT }
  });
});

const chart = echarts.init(document.getElementById('chart'), null, { renderer: 'canvas' });
chart.setOption({
  backgroundColor: '#ffffff',
  animation: false,
  title, grid, xAxis, yAxis, series
});
</script>
</body>
</html>
